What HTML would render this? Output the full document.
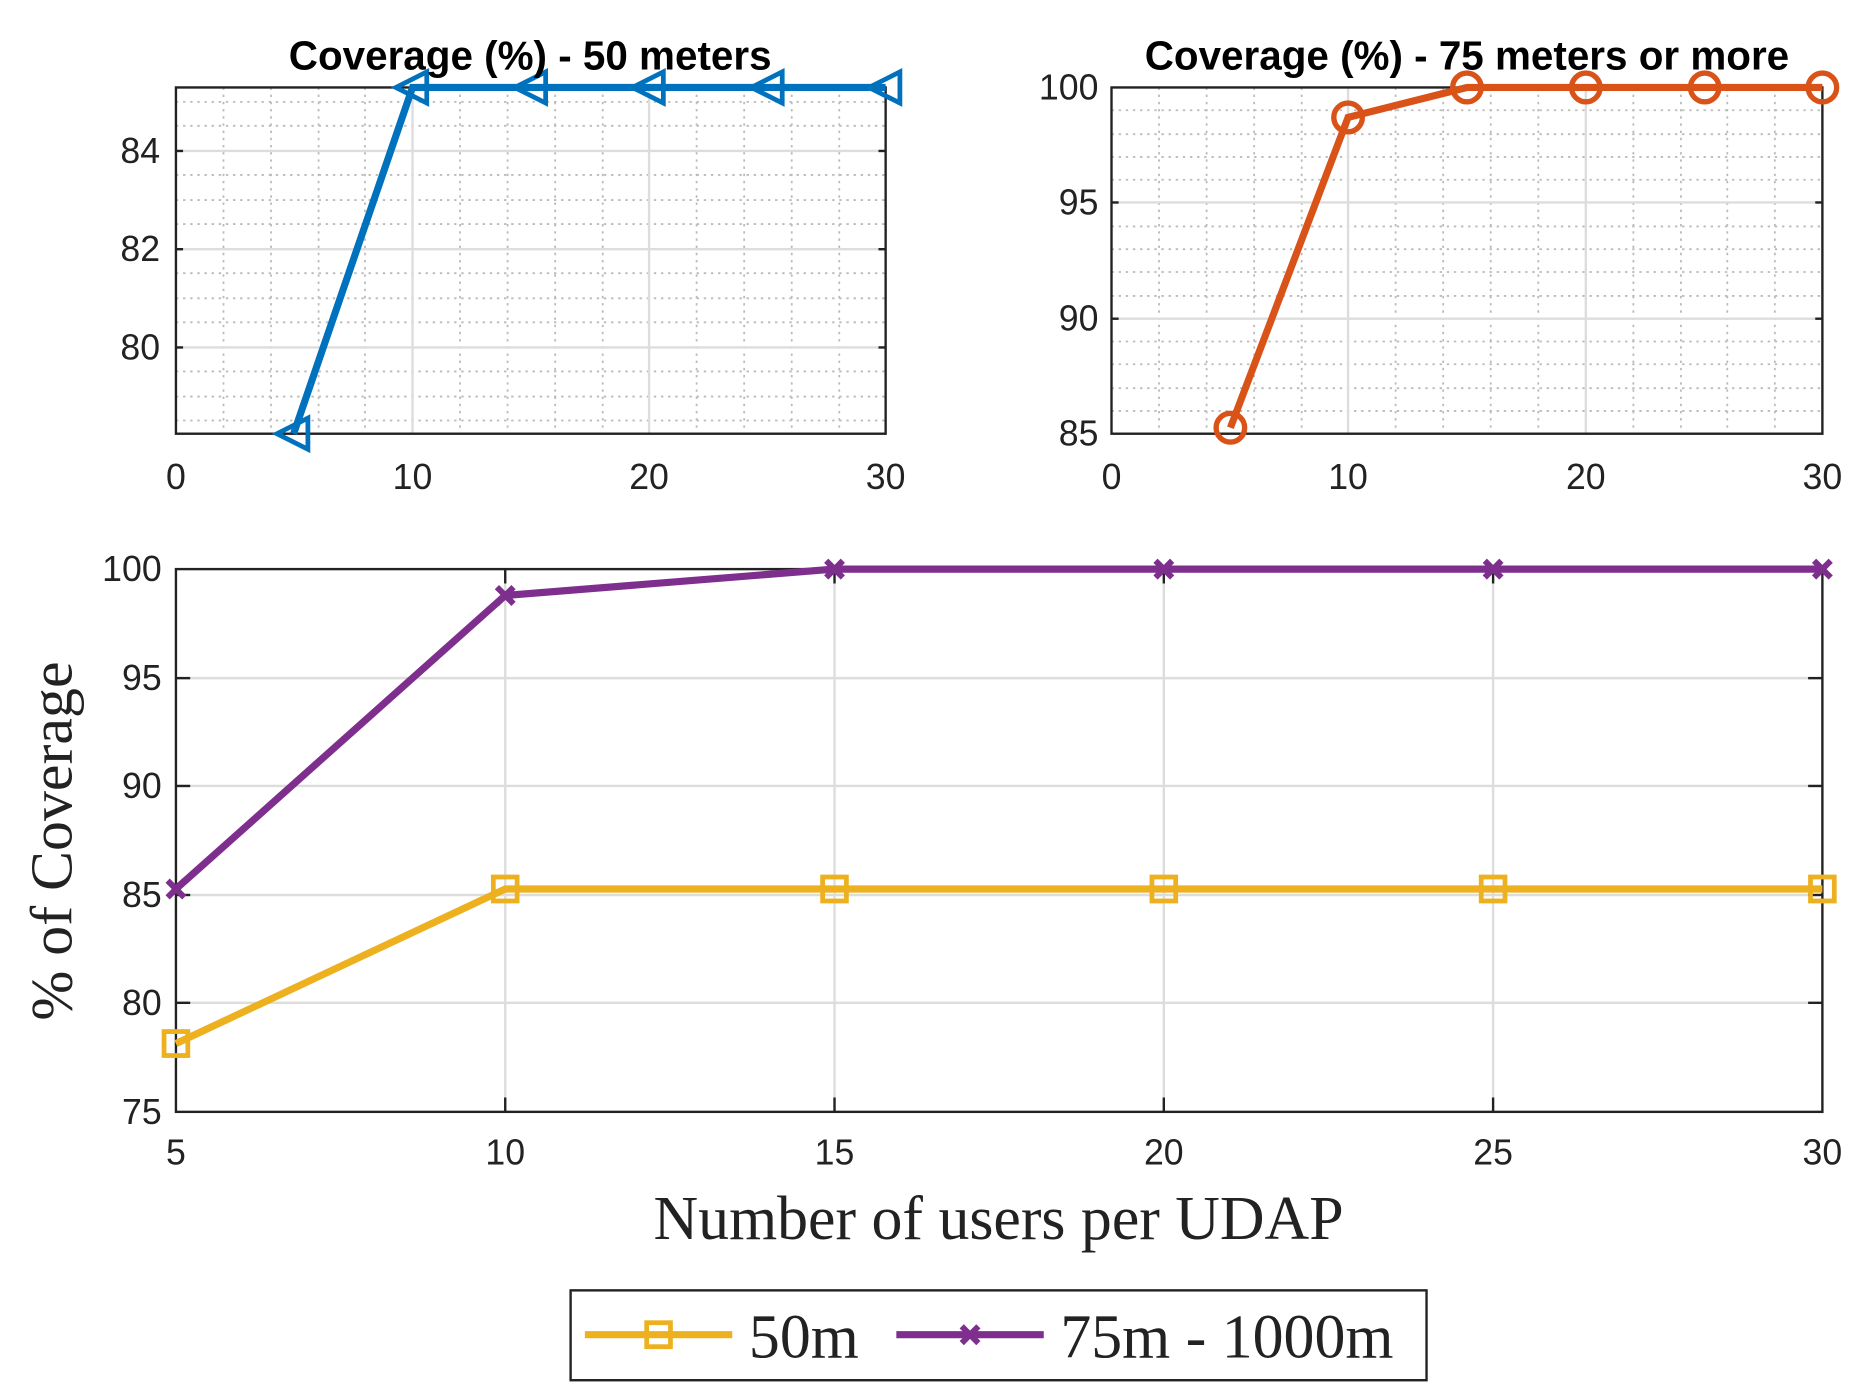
<!DOCTYPE html>
<html><head><style>html,body{margin:0;padding:0;background:#fff}svg{display:block}</style></head>
<body>
<svg width="1864" height="1397" viewBox="0 0 1568 1166" preserveAspectRatio="none" xmlns="http://www.w3.org/2000/svg" font-family="Liberation Sans, Arial, sans-serif">
<!-- Top-left -->
<g stroke="#bbb" stroke-width="1.5" stroke-dasharray="2,4">
<line x1="188" y1="73" x2="188" y2="362"/><line x1="228" y1="73" x2="228" y2="362"/><line x1="268" y1="73" x2="268" y2="362"/><line x1="307" y1="73" x2="307" y2="362"/><line x1="387" y1="73" x2="387" y2="362"/><line x1="427" y1="73" x2="427" y2="362"/><line x1="467" y1="73" x2="467" y2="362"/><line x1="507" y1="73" x2="507" y2="362"/><line x1="586" y1="73" x2="586" y2="362"/><line x1="626" y1="73" x2="626" y2="362"/><line x1="666" y1="73" x2="666" y2="362"/><line x1="706" y1="73" x2="706" y2="362"/>
<line x1="148" y1="85" x2="745" y2="85"/><line x1="148" y1="105" x2="745" y2="105"/><line x1="148" y1="146" x2="745" y2="146"/><line x1="148" y1="167" x2="745" y2="167"/><line x1="148" y1="187" x2="745" y2="187"/><line x1="148" y1="228" x2="745" y2="228"/><line x1="148" y1="249" x2="745" y2="249"/><line x1="148" y1="269" x2="745" y2="269"/><line x1="148" y1="310" x2="745" y2="310"/><line x1="148" y1="331" x2="745" y2="331"/><line x1="148" y1="351" x2="745" y2="351"/>
</g>
<g stroke="#ddd" stroke-width="2">
<line x1="347" y1="73" x2="347" y2="362"/><line x1="546" y1="73" x2="546" y2="362"/>
<line x1="148" y1="126" x2="745" y2="126"/><line x1="148" y1="208" x2="745" y2="208"/><line x1="148" y1="290" x2="745" y2="290"/>
</g>
<rect x="148" y="73" width="597" height="289" fill="none" stroke="#222" stroke-width="2"/>
<g stroke="#222" stroke-width="2"><line x1="148" y1="126" x2="154" y2="126"/><line x1="148" y1="208" x2="154" y2="208"/><line x1="148" y1="290" x2="154" y2="290"/><line x1="745" y1="126" x2="739" y2="126"/><line x1="745" y1="208" x2="739" y2="208"/><line x1="745" y1="290" x2="739" y2="290"/></g>
<g fill="none" stroke="#0072BD" stroke-width="6">
<polyline points="247,362 347,73 447,73 546,73 646,73 745,73"/>
<g stroke-width="4">
<polygon points="233,362 259,349 259,375"/><polygon points="333,73 359,60 359,86"/><polygon points="433,73 459,60 459,86"/><polygon points="532,73 558,60 558,86"/><polygon points="632,73 658,60 658,86"/><polygon points="731,73 757,60 757,86"/>
</g></g>
<g font-size="30" fill="#222" text-anchor="middle">
<text x="148" y="408">0</text><text x="347" y="408">10</text><text x="546" y="408">20</text><text x="745" y="408">30</text>
<text x="118" y="136">84</text><text x="118" y="218">82</text><text x="118" y="300">80</text>
</g>
<text x="446" y="58" font-size="34" font-weight="bold" text-anchor="middle" fill="#000">Coverage (%) - 50 meters</text>

<!-- Top-right -->
<g stroke="#bbb" stroke-width="1.5" stroke-dasharray="2,4">
<line x1="975" y1="73" x2="975" y2="362"/><line x1="1015" y1="73" x2="1015" y2="362"/><line x1="1055" y1="73" x2="1055" y2="362"/><line x1="1095" y1="73" x2="1095" y2="362"/><line x1="1174" y1="73" x2="1174" y2="362"/><line x1="1214" y1="73" x2="1214" y2="362"/><line x1="1254" y1="73" x2="1254" y2="362"/><line x1="1294" y1="73" x2="1294" y2="362"/><line x1="1374" y1="73" x2="1374" y2="362"/><line x1="1414" y1="73" x2="1414" y2="362"/><line x1="1453" y1="73" x2="1453" y2="362"/><line x1="1493" y1="73" x2="1493" y2="362"/>
<line x1="935" y1="92" x2="1533" y2="92"/><line x1="935" y1="112" x2="1533" y2="112"/><line x1="935" y1="131" x2="1533" y2="131"/><line x1="935" y1="150" x2="1533" y2="150"/><line x1="935" y1="189" x2="1533" y2="189"/><line x1="935" y1="208" x2="1533" y2="208"/><line x1="935" y1="227" x2="1533" y2="227"/><line x1="935" y1="247" x2="1533" y2="247"/><line x1="935" y1="285" x2="1533" y2="285"/><line x1="935" y1="304" x2="1533" y2="304"/><line x1="935" y1="324" x2="1533" y2="324"/><line x1="935" y1="343" x2="1533" y2="343"/>
</g>
<g stroke="#ddd" stroke-width="2">
<line x1="1134" y1="73" x2="1134" y2="362"/><line x1="1334" y1="73" x2="1334" y2="362"/>
<line x1="935" y1="169" x2="1533" y2="169"/><line x1="935" y1="266" x2="1533" y2="266"/>
</g>
<rect x="935" y="73" width="598" height="289" fill="none" stroke="#222" stroke-width="2"/>
<g stroke="#222" stroke-width="2"><line x1="935" y1="169" x2="941" y2="169"/><line x1="935" y1="266" x2="941" y2="266"/><line x1="1533" y1="169" x2="1527" y2="169"/><line x1="1533" y1="266" x2="1527" y2="266"/></g>
<g fill="none" stroke="#D95319" stroke-width="6">
<polyline points="1035,357 1134,98 1234,73 1334,73 1434,73 1533,73"/>
<g stroke-width="4.5"><circle cx="1035" cy="357" r="12"/><circle cx="1134" cy="98" r="12"/><circle cx="1234" cy="73" r="12"/><circle cx="1334" cy="73" r="12"/><circle cx="1434" cy="73" r="12"/><circle cx="1533" cy="73" r="12"/></g>
</g>
<g font-size="30" fill="#222" text-anchor="middle">
<text x="935" y="408">0</text><text x="1134" y="408">10</text><text x="1334" y="408">20</text><text x="1533" y="408">30</text>
</g>
<g font-size="30" fill="#222" text-anchor="end">
<text x="924" y="83">100</text><text x="924" y="179">95</text><text x="924" y="276">90</text><text x="924" y="372">85</text>
</g>
<text x="1234" y="58" font-size="34" font-weight="bold" text-anchor="middle" fill="#000">Coverage (%) - 75 meters or more</text>

<!-- Bottom -->
<g stroke="#ddd" stroke-width="2">
<line x1="425" y1="475" x2="425" y2="928"/><line x1="702" y1="475" x2="702" y2="928"/><line x1="979" y1="475" x2="979" y2="928"/><line x1="1256" y1="475" x2="1256" y2="928"/>
<line x1="148" y1="566" x2="1533" y2="566"/><line x1="148" y1="656" x2="1533" y2="656"/><line x1="148" y1="747" x2="1533" y2="747"/><line x1="148" y1="837" x2="1533" y2="837"/>
</g>
<rect x="148" y="475" width="1385" height="453" fill="none" stroke="#222" stroke-width="2"/>
<g stroke="#222" stroke-width="2">
<line x1="148" y1="566" x2="160" y2="566"/><line x1="148" y1="656" x2="160" y2="656"/><line x1="148" y1="747" x2="160" y2="747"/><line x1="148" y1="837" x2="160" y2="837"/>
<line x1="1533" y1="566" x2="1521" y2="566"/><line x1="1533" y1="656" x2="1521" y2="656"/><line x1="1533" y1="747" x2="1521" y2="747"/><line x1="1533" y1="837" x2="1521" y2="837"/>
<line x1="425" y1="928" x2="425" y2="916"/><line x1="702" y1="928" x2="702" y2="916"/><line x1="979" y1="928" x2="979" y2="916"/><line x1="1256" y1="928" x2="1256" y2="916"/>
<line x1="425" y1="475" x2="425" y2="487"/><line x1="702" y1="475" x2="702" y2="487"/><line x1="979" y1="475" x2="979" y2="487"/><line x1="1256" y1="475" x2="1256" y2="487"/>
</g>
<g fill="none" stroke="#7E2F8E" stroke-width="6">
<polyline points="148,742 425,497 702,475 979,475 1256,475 1533,475"/>
<path stroke-width="5" d="M141,735l14,14M155,735l-14,14M418,490l14,14M432,490l-14,14M695,468l14,14M709,468l-14,14M972,468l14,14M986,468l-14,14M1249,468l14,14M1263,468l-14,14M1526,468l14,14M1540,468l-14,14"/>
</g>
<g fill="none" stroke="#EDB120" stroke-width="6">
<polyline points="148,871 425,742 702,742 979,742 1256,742 1533,742"/>
<g stroke-width="4"><rect x="138" y="861" width="20" height="20"/><rect x="415" y="732" width="20" height="20"/><rect x="692" y="732" width="20" height="20"/><rect x="969" y="732" width="20" height="20"/><rect x="1246" y="732" width="20" height="20"/><rect x="1523" y="732" width="20" height="20"/></g>
</g>
<g font-size="30" fill="#222" text-anchor="middle">
<text x="148" y="972">5</text><text x="425" y="972">10</text><text x="702" y="972">15</text><text x="979" y="972">20</text><text x="1256" y="972">25</text><text x="1533" y="972">30</text>
</g>
<g font-size="30" fill="#222" text-anchor="end">
<text x="136" y="485">100</text><text x="136" y="576">95</text><text x="136" y="666">90</text><text x="136" y="757">85</text><text x="136" y="847">80</text><text x="136" y="938">75</text>
</g>
<text x="840" y="1034" font-family="Liberation Serif, serif" font-size="52" text-anchor="middle" fill="#222">Number of users per UDAP</text>
<text transform="translate(60,702) rotate(-90)" font-family="Liberation Serif, serif" font-size="50" text-anchor="middle" fill="#222">% of Coverage</text>

<!-- Legend -->
<rect x="480" y="1077" width="720" height="75" fill="#fff" stroke="#222" stroke-width="2"/>
<line x1="492" y1="1114" x2="616" y2="1114" stroke="#EDB120" stroke-width="6"/>
<rect x="544" y="1104" width="20" height="20" fill="none" stroke="#EDB120" stroke-width="4"/>
<text x="630" y="1133" font-family="Liberation Serif, serif" font-size="52" fill="#222">50m</text>
<line x1="754" y1="1114" x2="878" y2="1114" stroke="#7E2F8E" stroke-width="6"/>
<path d="M809,1107l14,14M823,1107l-14,14" stroke="#7E2F8E" stroke-width="5"/>
<text x="892" y="1133" font-family="Liberation Serif, serif" font-size="52" fill="#222">75m - 1000m</text>
</svg>
</body></html>
